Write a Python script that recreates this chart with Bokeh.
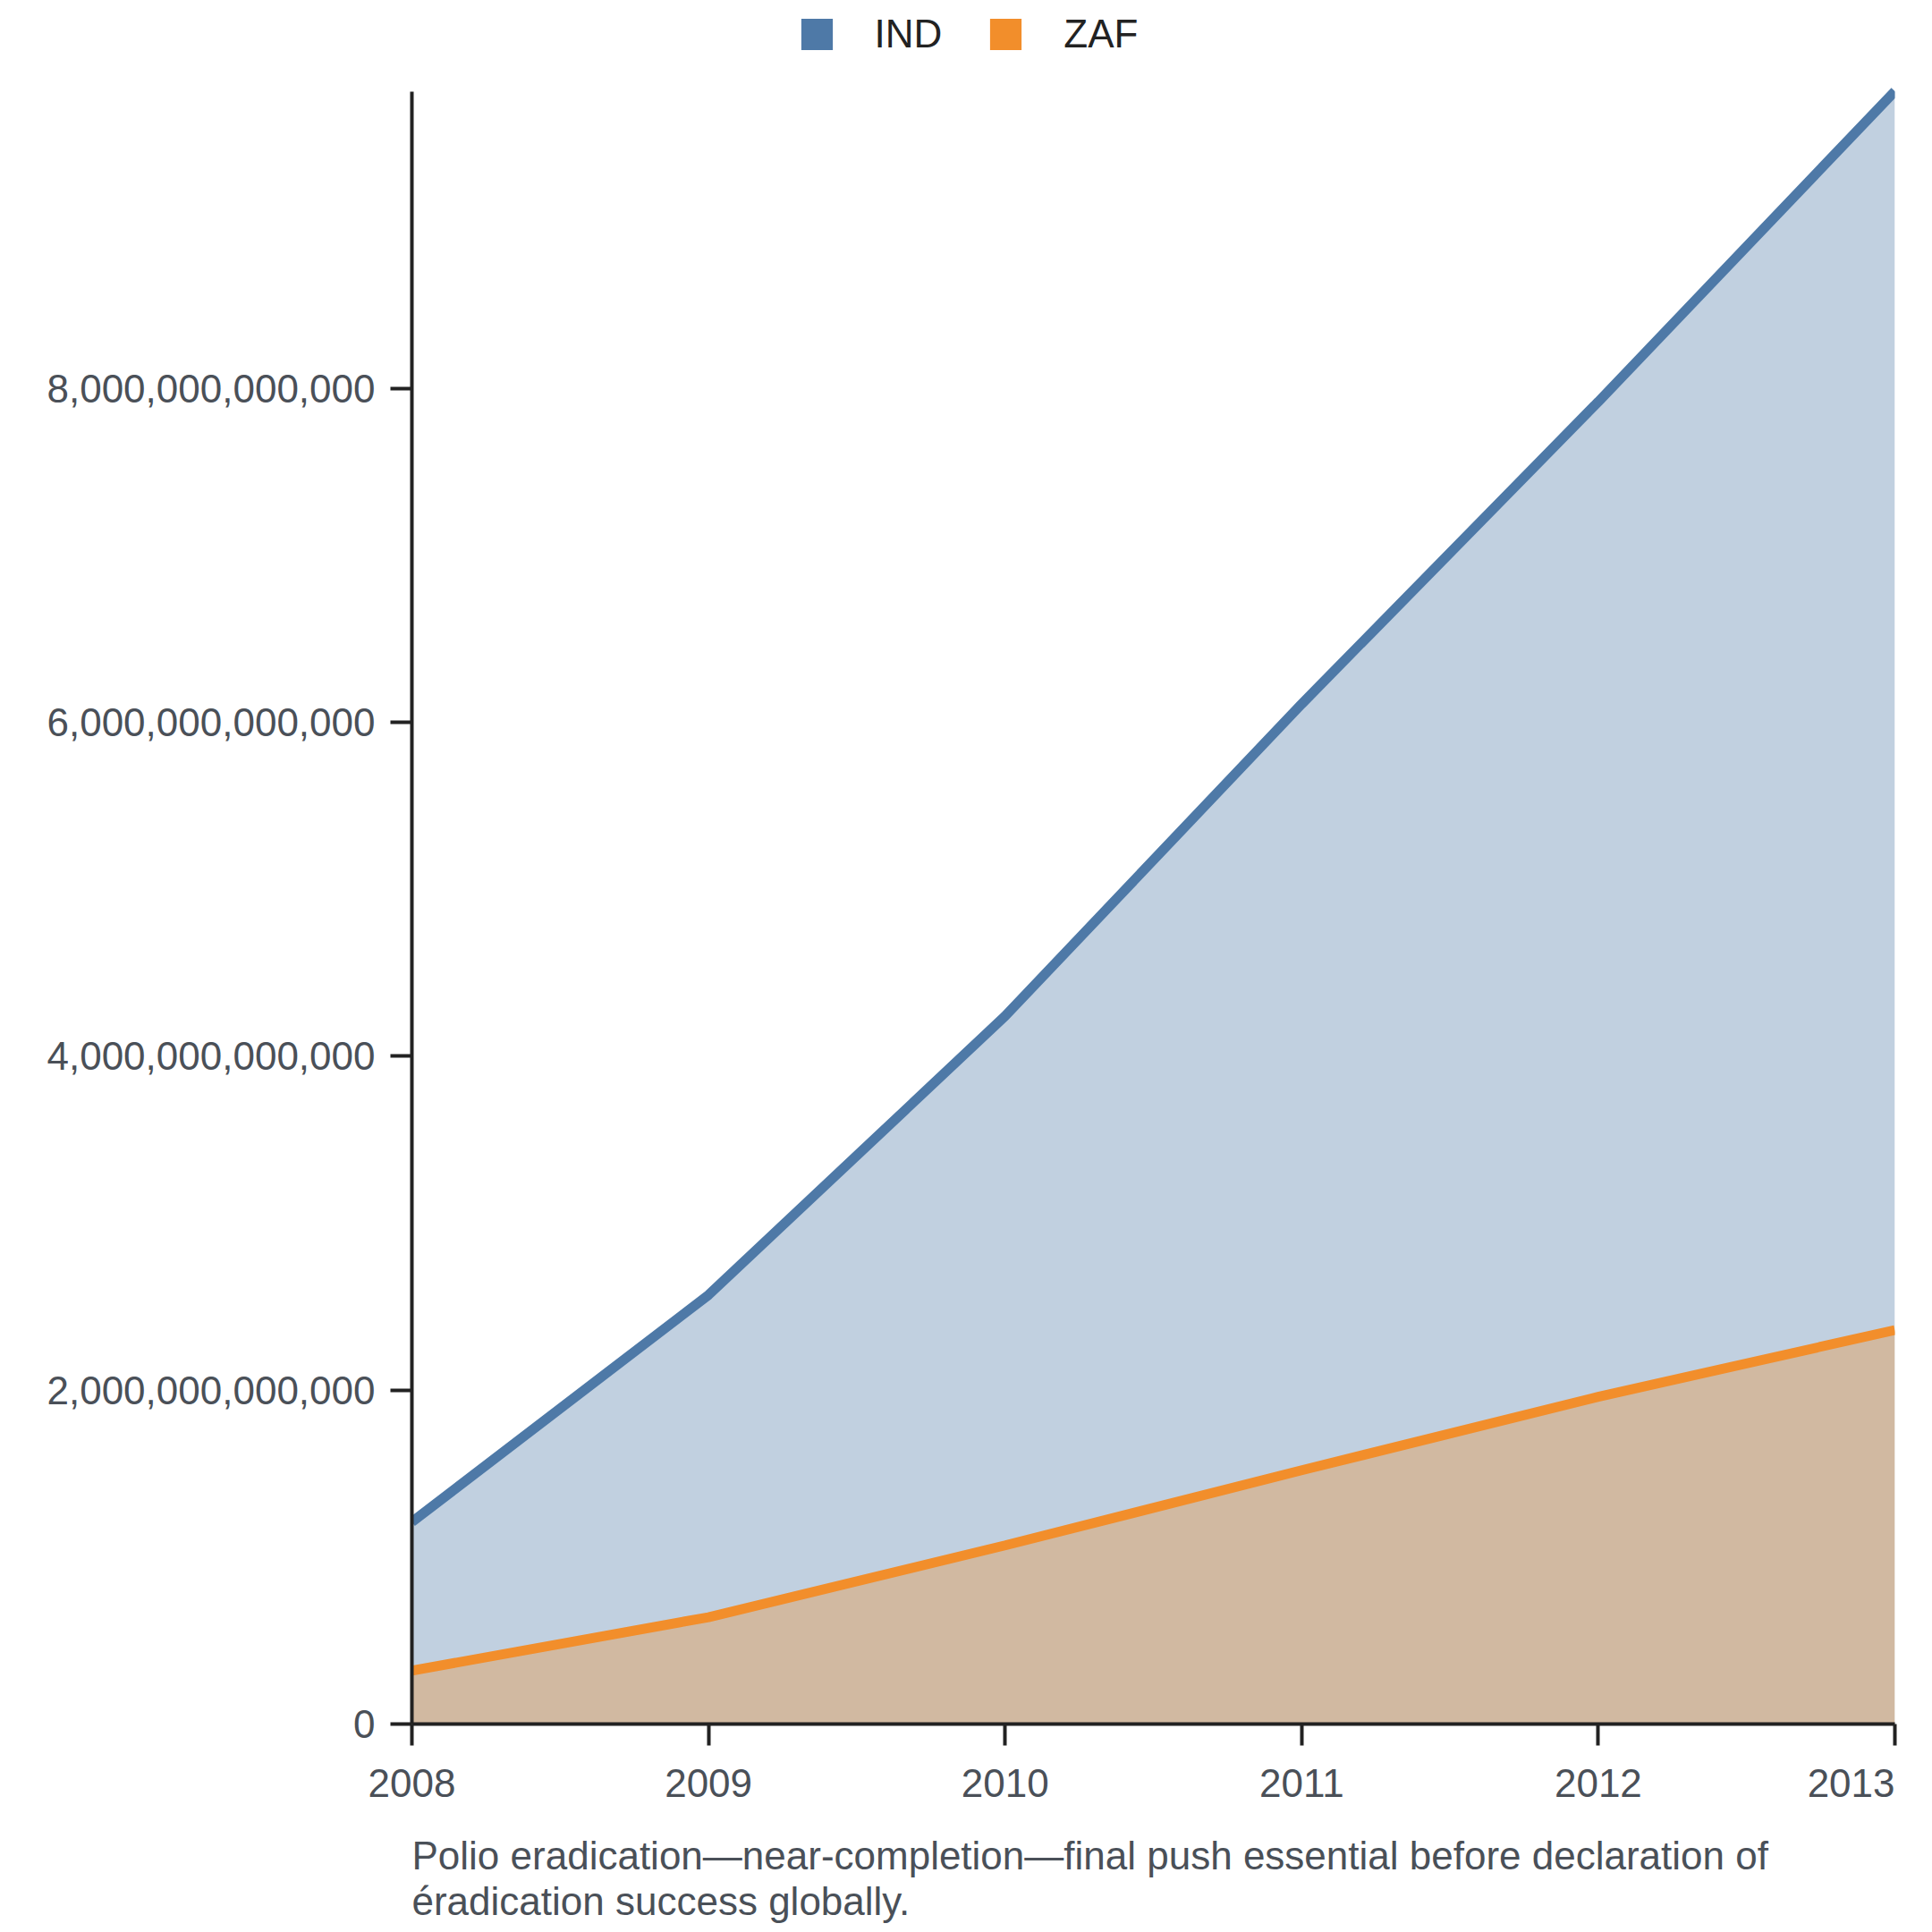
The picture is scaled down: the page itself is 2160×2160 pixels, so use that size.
from bokeh.plotting import figure
from bokeh.models import (Range1d, FixedTicker, NumeralTickFormatter, Legend,
                          LegendItem, Title)
from bokeh.embed import file_html
from bokeh.resources import INLINE

# ---- data ----
years = [2008, 2009, 2010, 2011, 2012, 2013]
ind_values = [1.21e12, 2.57e12, 4.24e12, 6.11e12, 7.92e12, 9.78e12]
zaf_values = [0.32e12, 0.64e12, 1.07e12, 1.52e12, 1.96e12, 2.36e12]
series_names = ["IND", "ZAF"]
series_colors = ["#4e79a7", "#f28e2b"]
y_ticks = [0, 2e12, 4e12, 6e12, 8e12]
caption_lines = [
    "Polio eradication\u2014near-completion\u2014final push essential before declaration of",
    "\u00e9radication success globally.",
]

# ---- layout / style constants ----
FONT = "Liberation Sans"
LABEL_COLOR = "#4a5058"
AXIS_COLOR = "#222222"
FS_PX = 44
FS = f"{FS_PX}px"
FRAME_W = 1658          # plot width (px)
FRAME_H = 1927          # frame reaches the canvas top (room for the legend)
TOP_PAD = 101.5         # gap between frame top and the data maximum (px)

y_max = max(ind_values)
y_end = y_max * FRAME_H / (FRAME_H - TOP_PAD)

p = figure(frame_width=FRAME_W, frame_height=FRAME_H,
           min_border_left=460, min_border_top=0,
           min_border_right=30, min_border_bottom=0,
           x_range=Range1d(years[0], years[-1]),
           y_range=Range1d(0, y_end),
           output_backend="svg", toolbar_location=None,
           background_fill_color="white", border_fill_color="white",
           outline_line_color=None)
p.grid.visible = False

for ax in (p.xaxis[0], p.yaxis[0]):
    ax.axis_line_color = AXIS_COLOR
    ax.axis_line_width = 4
    ax.major_tick_line_color = AXIS_COLOR
    ax.major_tick_line_width = 4
    ax.major_tick_in = 0
    ax.major_tick_out = 24
    ax.minor_tick_line_color = None
    ax.major_label_text_font = FONT
    ax.major_label_text_font_size = FS
    ax.major_label_text_color = LABEL_COLOR

# x axis: tick marks on the years (drawn as minor ticks); the last label is
# shifted left by half its width so that it ends at the frame edge.
px_per_year = FRAME_W / (years[-1] - years[0])
last_label_half_w = len(str(years[-1])) * 0.556 * FS_PX / 2
label_pos = years[:-1] + [years[-1] - last_label_half_w / px_per_year]
xa = p.xaxis[0]
xa.ticker = FixedTicker(ticks=label_pos, minor_ticks=years)
xa.formatter = NumeralTickFormatter(format="0")
xa.major_tick_line_color = None
xa.minor_tick_line_color = AXIS_COLOR
xa.minor_tick_line_width = 4
xa.minor_tick_in = 0
xa.minor_tick_out = 24
xa.major_label_standoff = 26

ya = p.yaxis[0]
ya.ticker = FixedTicker(ticks=y_ticks)
ya.formatter = NumeralTickFormatter(format="0,0")
ya.major_label_standoff = 17
ya.bounds = (0, y_max)

# areas and lines
p.varea(x=years, y1=0, y2=ind_values, fill_color=series_colors[0], fill_alpha=0.35)
p.line(years, ind_values, line_color=series_colors[0], line_width=11)
p.varea(x=years, y1=0, y2=zaf_values, fill_color=series_colors[1], fill_alpha=0.35)
p.line(years, zaf_values, line_color=series_colors[1], line_width=11)

# legend proxies: zero-size square markers (legend draws them at 0.4 * glyph box)
proxies = [p.scatter(years, vals, marker="square", size=0, fill_color=c, line_color=None)
           for vals, c in zip([ind_values, zaf_values], series_colors)]
legend = Legend(items=[LegendItem(label=n, renderers=[r]) for n, r in zip(series_names, proxies)],
                location=(408.5, 1845.1), orientation="horizontal",
                glyph_width=88, glyph_height=88, label_standoff=21, spacing=27,
                padding=0, margin=0, border_line_color=None, background_fill_alpha=0,
                label_text_font=FONT, label_text_font_size=FS,
                label_text_color="#222222", label_height=44)
p.add_layout(legend, "center")

# spacing between the x axis and the caption (blank one-pixel title)
p.add_layout(Title(text=" ", vertical_align="top", text_font=FONT, text_font_size="1px",
                   text_color="white", standoff=35), "below")

# caption below the x axis
for line in caption_lines:
    p.add_layout(Title(text=line, align="left", vertical_align="top",
                       text_font=FONT, text_font_size=FS,
                       text_font_style="normal", text_color=LABEL_COLOR,
                       standoff=0, offset=0), "below")

open("out.html", "w").write(file_html(p, INLINE))
